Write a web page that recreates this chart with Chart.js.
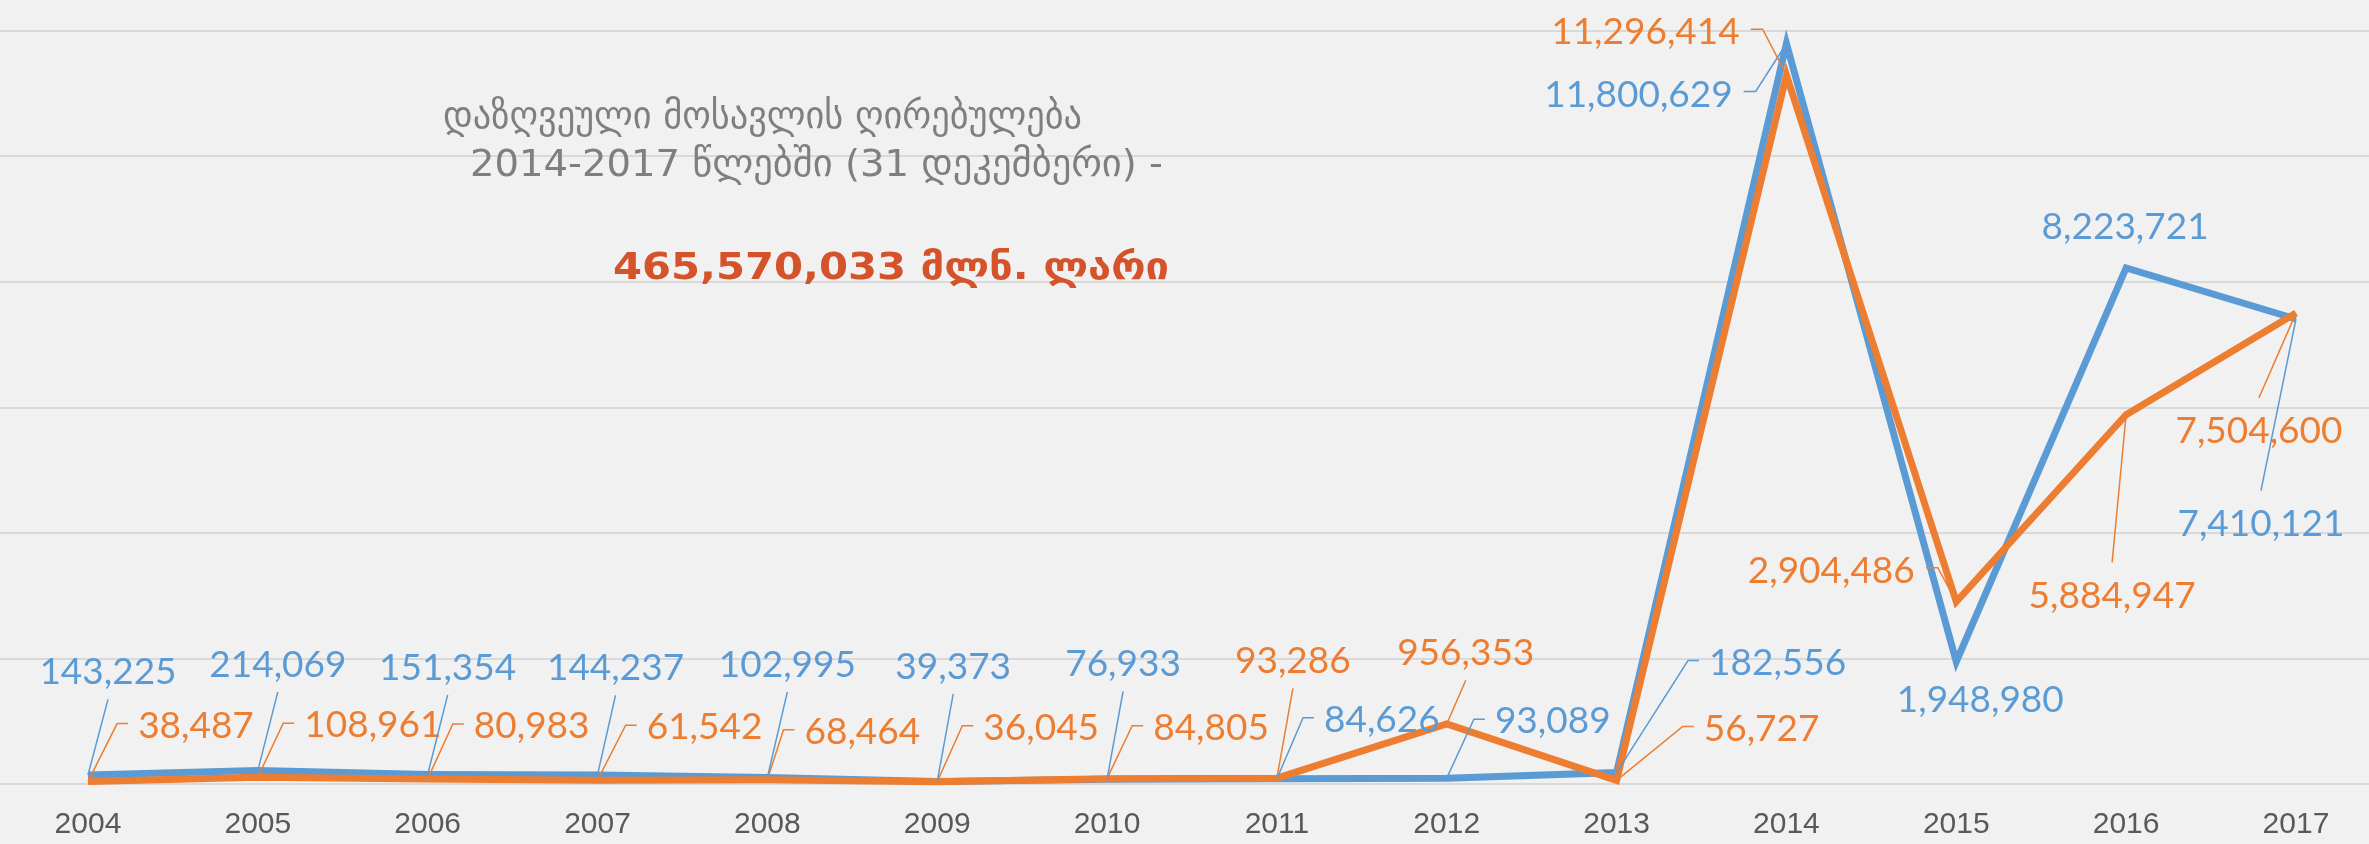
<!DOCTYPE html>
<html>
<head>
<meta charset="utf-8">
<script src="https://cdn.jsdelivr.net/npm/chart.js@4.4.0/dist/chart.umd.min.js"></script>
<style>
  html, body { margin: 0; padding: 0; background: #f1f1f1; }
  #wrap { width: 2369px; height: 844px; }
</style>
</head>
<body>
<div id="wrap"><canvas id="chart" width="2369" height="844"></canvas></div>
<script>
// data
const years = [2004, 2005, 2006, 2007, 2008, 2009, 2010, 2011, 2012, 2013, 2014, 2015, 2016, 2017];
const blueValues = [143225, 214069, 151354, 144237, 102995, 39373, 76933, 84626, 93089, 182556, 11800629, 1948980, 8223721, 7410121];
const orangeValues = [38487, 108961, 80983, 61542, 68464, 36045, 84805, 93286, 956353, 56727, 11296414, 2904486, 5884947, 7504600];
const yTicks = [0, 2000000, 4000000, 6000000, 8000000, 10000000, 12000000];

const titleLines = ['დაზღვეული მოსავლის ღირებულება', '2014-2017 წლებში (31 დეკემბერი) -'];
const totalText = '465,570,033 მლნ. ლარი';

// label placement: offset of label centre from its point, and how the leader runs
const blueLabelPlace = [
  [20, -104, 'up'], [20, -107, 'up'], [20, -108, 'up'], [18, -108, 'up'], [20, -114, 'up'],
  [16, -116, 'up'], [16, -116, 'up'], [105, -60, 'right'], [106, -58, 'right'], [161, -111, 'right'],
  [-148, 50, 'left'], [24, 37, 'none'], [-1, -42, 'none'], [-35, 204, 'down']
];
const orangeLabelPlace = [
  [108, -57, 'right'], [115, -53, 'right'], [104, -54, 'right'], [107, -54, 'right'], [95, -49, 'right'],
  [104, -55, 'right'], [104, -52, 'right'], [16, -118, 'up'], [19, -72, 'up'], [145, -53, 'right'],
  [-141, -44, 'left'], [-125, -32, 'left'], [-14, 180, 'down'], [-37, 117, 'down']
];

// title boxes: left x, baseline y, width to fit
const titleBoxes = [[443, 128, 639], [470, 176, 693]];
const totalBox = [613, 279, 556];

const BLUE = '#5b9bd5';
const ORANGE = '#ed7d31';
const LABEL_FONT = 37;

function fmt(v) {
  return v.toLocaleString('en-US');
}

// draw text starting at x, squeezed/stretched to the given width
function fitText(ctx, text, x, y, width) {
  const w = ctx.measureText(text).width;
  ctx.save();
  ctx.translate(x, y);
  ctx.scale(width / w, 1);
  ctx.fillText(text, 0, 0);
  ctx.restore();
}

const bgPlugin = {
  id: 'bg',
  beforeDraw(chart) {
    const ctx = chart.ctx;
    ctx.save();
    ctx.fillStyle = '#f1f1f1';
    ctx.fillRect(0, 0, chart.width, chart.height);
    ctx.restore();
  }
};

const pointLabels = {
  id: 'pointLabels',
  afterDatasetsDraw(chart) {
    const ctx = chart.ctx;
    ctx.save();
    ctx.font = LABEL_FONT + 'px Lato';
    chart.data.datasets.forEach((ds, i) => {
      const meta = chart.getDatasetMeta(i);
      meta.data.forEach((pt, j) => {
        const [dx, dy, kind] = ds.labelPlace[j];
        const text = fmt(ds.data[j].y);
        const w = ctx.measureText(text).width;
        const cap = LABEL_FONT * 0.72;
        const cx = pt.x + dx;
        const cy = pt.y + dy;
        const left = cx - w / 2;
        const right = cx + w / 2;
        const top = cy - cap / 2;
        const bottom = cy + cap / 2;

        ctx.strokeStyle = ds.borderColor;
        ctx.lineWidth = 1.5;
        ctx.beginPath();
        if (kind === 'up') {
          ctx.moveTo(pt.x, pt.y);
          ctx.lineTo(cx, bottom + 15);
        } else if (kind === 'down') {
          ctx.moveTo(pt.x, pt.y);
          ctx.lineTo(cx, top - 19);
        } else if (kind === 'right') {
          ctx.moveTo(pt.x, pt.y);
          ctx.lineTo(left - 21, cy - 1);
          ctx.lineTo(left - 10, cy - 1);
        } else if (kind === 'left') {
          ctx.moveTo(pt.x, pt.y);
          ctx.lineTo(right + 23, cy - 2);
          ctx.lineTo(right + 11, cy - 2);
        }
        ctx.stroke();

        ctx.fillStyle = ds.borderColor;
        ctx.textAlign = 'center';
        ctx.textBaseline = 'alphabetic';
        ctx.fillText(text, cx, bottom);
      });
    });
    ctx.restore();
  }
};

const titlePlugin = {
  id: 'titleText',
  afterDraw(chart) {
    const ctx = chart.ctx;
    ctx.save();
    ctx.textAlign = 'left';
    ctx.textBaseline = 'alphabetic';
    ctx.fillStyle = '#7f7f7f';
    ctx.font = '38px "DejaVu Sans"';
    titleLines.forEach((line, i) => {
      const [x, y, w] = titleBoxes[i];
      fitText(ctx, line, x, y, w);
    });
    ctx.fillStyle = '#d4532b';
    ctx.font = 'bold 38px "DejaVu Sans"';
    fitText(ctx, totalText, totalBox[0], totalBox[1], totalBox[2]);
    ctx.restore();
  }
};

new Chart(document.getElementById('chart'), {
  type: 'line',
  data: {
    datasets: [
      {
        label: 'orange',
        data: years.map((y, i) => ({ x: y, y: orangeValues[i] })),
        borderColor: ORANGE,
        backgroundColor: ORANGE,
        borderWidth: 7,
        pointRadius: 0,
        tension: 0,
        clip: false,
        labelPlace: orangeLabelPlace
      },
      {
        label: 'blue',
        data: years.map((y, i) => ({ x: y, y: blueValues[i] })),
        borderColor: BLUE,
        backgroundColor: BLUE,
        borderWidth: 7,
        pointRadius: 0,
        tension: 0,
        clip: false,
        labelPlace: blueLabelPlace
      }
    ]
  },
  options: {
    responsive: false,
    devicePixelRatio: 1,
    animation: false,
    layout: { padding: { top: 31, bottom: 0, left: 0, right: 0 } },
    plugins: {
      legend: { display: false },
      tooltip: { enabled: false },
      title: { display: false }
    },
    scales: {
      x: {
        type: 'linear',
        min: 2003.482,
        max: 2017.43,
        grid: { display: false, drawTicks: false },
        border: { display: false },
        afterBuildTicks: (scale) => {
          scale.ticks = years.map((v) => ({ value: v }));
        },
        afterFit: (scale) => {
          scale.height = 60;
        },
        ticks: {
          autoSkip: false,
          maxRotation: 0,
          padding: 26,
          color: '#595959',
          font: { family: '"Liberation Sans", Arial, sans-serif', size: 30, lineHeight: 1 },
          callback: (value) => String(value)
        }
      },
      y: {
        min: 0,
        max: 12000000,
        afterBuildTicks: (scale) => {
          scale.ticks = yTicks.map((v) => ({ value: v }));
        },
        grid: { color: '#d9d9d9', lineWidth: 2, drawTicks: false },
        border: { display: false },
        ticks: { display: false }
      }
    }
  },
  plugins: [bgPlugin, pointLabels, titlePlugin]
});
</script>
</body>
</html>
